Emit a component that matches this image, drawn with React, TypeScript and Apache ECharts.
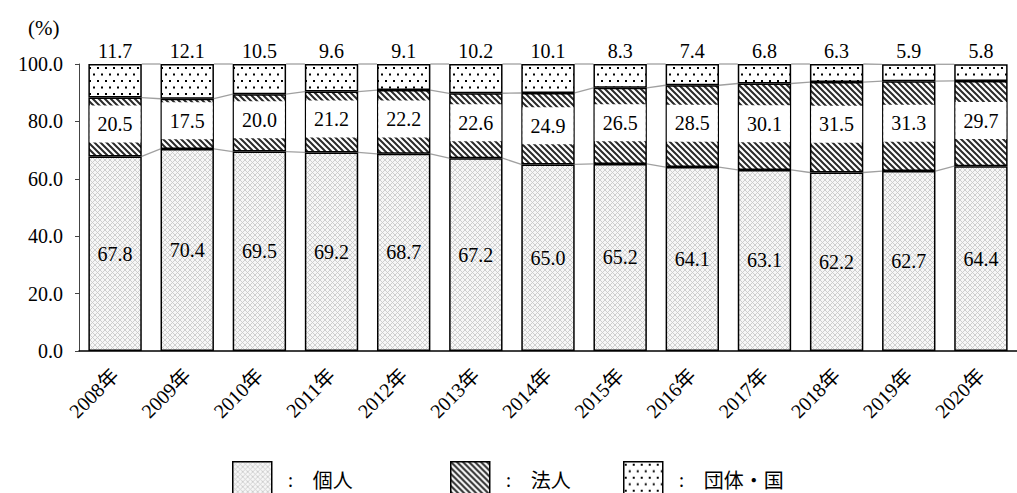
import React, { useEffect, useRef } from "react";
import * as echarts from "echarts";

const categories = ["2008年", "2009年", "2010年", "2011年", "2012年", "2013年", "2014年", "2015年", "2016年", "2017年", "2018年", "2019年", "2020年"];
const kojin = [67.8, 70.4, 69.5, 69.2, 68.7, 67.2, 65.0, 65.2, 64.1, 63.1, 62.2, 62.7, 64.4];
const hojin = [20.5, 17.5, 20.0, 21.2, 22.2, 22.6, 24.9, 26.5, 28.5, 30.1, 31.5, 31.3, 29.7];
const dantai = [11.7, 12.1, 10.5, 9.6, 9.1, 10.2, 10.1, 8.3, 7.4, 6.8, 6.3, 5.9, 5.8];
const yTicks = [0, 20, 40, 60, 80, 100];
const seriesNames = ["個人", "法人", "団体・国"];

const FONT = "'Liberation Serif', 'Noto Sans CJK JP', serif";
const BAR_RATIO = 0.74;

function makeCanvas(w: number, h: number, draw: (ctx: CanvasRenderingContext2D) => void) {
  const c = document.createElement("canvas");
  c.width = w;
  c.height = h;
  const ctx = c.getContext("2d")!;
  draw(ctx);
  return c;
}

export default function App() {
  const ref = useRef<HTMLDivElement>(null);
  useEffect(() => {
    if (!ref.current) return;
    const chart = echarts.init(ref.current, null, { renderer: "svg" });

    const crossCanvas = makeCanvas(5, 5, (ctx) => {
      ctx.fillStyle = "#f7f7f7";
      ctx.fillRect(0, 0, 5, 5);
      ctx.strokeStyle = "#c9c9c9";
      ctx.lineWidth = 0.9;
      ctx.beginPath();
      for (const k of [-5, 0, 5]) {
        ctx.moveTo(k, 0);
        ctx.lineTo(k + 5, 5);
        ctx.moveTo(k + 5, 0);
        ctx.lineTo(k, 5);
      }
      ctx.stroke();
    });
    const stripeCanvas = makeCanvas(6, 6, (ctx) => {
      ctx.fillStyle = "#ffffff";
      ctx.fillRect(0, 0, 6, 6);
      ctx.strokeStyle = "#2a2a2a";
      ctx.lineWidth = 2;
      ctx.beginPath();
      for (const k of [-6, 0, 6]) {
        ctx.moveTo(k - 1, -1);
        ctx.lineTo(k + 7, 7);
      }
      ctx.stroke();
    });
    const dotCanvas = makeCanvas(8, 13, (ctx) => {
      ctx.fillStyle = "#ffffff";
      ctx.fillRect(0, 0, 8, 13);
      ctx.fillStyle = "#000";
      ctx.fillRect(1, 2, 2, 2);
      ctx.fillRect(5, 8.5, 2, 2);
    });

    const patterns = [crossCanvas, stripeCanvas, dotCanvas].map((c) => ({ image: c, repeat: "repeat" }));

    const connectorData = categories.slice(0, -1).map((_, i) => [
      i,
      kojin[i],
      kojin[i + 1],
      kojin[i] + hojin[i],
      kojin[i + 1] + hojin[i + 1],
      kojin[i] + hojin[i] + dantai[i],
      kojin[i + 1] + hojin[i + 1] + dantai[i + 1],
    ]);

    const legendPos = [232, 450, 623];

    const baseBar = {
      type: "bar",
      stack: "total",
      barWidth: BAR_RATIO * 100 + "%",
      z: 2,
    };

    chart.setOption({
      animation: false,
      textStyle: { fontFamily: FONT },
      title: {
        text: "(%)",
        left: 23,
        top: 12,
        textStyle: { fontFamily: FONT, fontSize: 21, fontWeight: "normal", color: "#000" },
      },
      grid: { left: 79, right: -14, top: 64, bottom: 142, containLabel: false },
      xAxis: {
        type: "category",
        data: categories,
        axisLine: { lineStyle: { color: "#000", width: 1.5 } },
        axisTick: { show: false },
        axisLabel: { rotate: 45, interval: 0, margin: 21, fontSize: 20, color: "#000", fontFamily: FONT },
      },
      yAxis: {
        type: "value",
        min: yTicks[0],
        max: yTicks[yTicks.length - 1],
        interval: 20,
        axisLine: { show: true, lineStyle: { color: "#444", width: 1 } },
        axisTick: { show: true, inside: false, length: 4, lineStyle: { color: "#444" } },
        splitLine: { show: false },
        axisLabel: {
          margin: 16,
          fontSize: 20,
          color: "#000",
          fontFamily: FONT,
          formatter: (v: number) => v.toFixed(1),
        },
      },
      legend: seriesNames.map((n, i) => ({
        data: [n],
        left: legendPos[i],
        top: 461,
        padding: 0,
        icon: "rect",
        itemWidth: 39,
        itemHeight: 36,
        itemStyle: { borderColor: "#000", borderWidth: 1.5 },
        formatter: (name: string) => `{c|:}{n|${name}}`,
        textStyle: {
          fontFamily: FONT,
          color: "#000",
          rich: {
            c: { width: 25, padding: [0, 0, 0, 11], fontSize: 20, fontFamily: FONT, color: "#000" },
            n: { fontSize: 20, fontFamily: "'Noto Sans CJK JP', sans-serif", color: "#000" },
          },
        },
        selectedMode: false,
      })),
      series: [
        {
          ...baseBar,
          name: seriesNames[0],
          data: kojin,
          itemStyle: { color: patterns[0], borderColor: "#000", borderWidth: 1.5 },
          label: {
            show: true,
            position: "inside",
            fontSize: 20,
            color: "#000",
            fontFamily: FONT,
            formatter: (p: any) => Number(p.value).toFixed(1),
          },
        },
        {
          ...baseBar,
          name: seriesNames[1],
          data: hojin,
          itemStyle: { color: patterns[1], borderColor: "#000", borderWidth: 1.5 },
          label: {
            show: true,
            position: "inside",
            offset: [0, -3],
            fontSize: 20,
            color: "#000",
            fontFamily: FONT,
            backgroundColor: "#fff",
            width: 51,
            height: 37,
            lineHeight: 37,
            align: "center",
            verticalAlign: "middle",
            formatter: (p: any) => Number(p.value).toFixed(1),
          },
        },
        {
          ...baseBar,
          name: seriesNames[2],
          data: dantai,
          itemStyle: { color: patterns[2], borderColor: "#000", borderWidth: 1.5 },
          label: {
            show: true,
            position: "top",
            distance: 3,
            fontSize: 20,
            color: "#000",
            fontFamily: FONT,
            formatter: (p: any) => Number(p.value).toFixed(1),
          },
        },
        {
          type: "custom",
          name: "connectors",
          z: 1,
          data: connectorData,
          encode: { x: 0, y: 1 },
          renderItem: (params: any, api: any) => {
            const i = api.value(0);
            const half = (api.size([1, 0])[0] * BAR_RATIO) / 2;
            const pairs = [
              [1, 2],
              [3, 4],
              [5, 6],
            ];
            return {
              type: "group",
              children: pairs.map(([a, b]) => {
                const p1 = api.coord([i, api.value(a)]);
                const p2 = api.coord([i + 1, api.value(b)]);
                return {
                  type: "line",
                  shape: { x1: p1[0] + half, y1: p1[1], x2: p2[0] - half, y2: p2[1] },
                  style: { stroke: "#a0a0a0", lineWidth: 1.3 },
                };
              }),
            };
          },
        },
      ],
    });
    return () => chart.dispose();
  }, []);

  return (
    <div
      ref={ref}
      style={{ position: "fixed", left: 0, top: 0, width: 1017, height: 493, background: "#fff" }}
    />
  );
}
